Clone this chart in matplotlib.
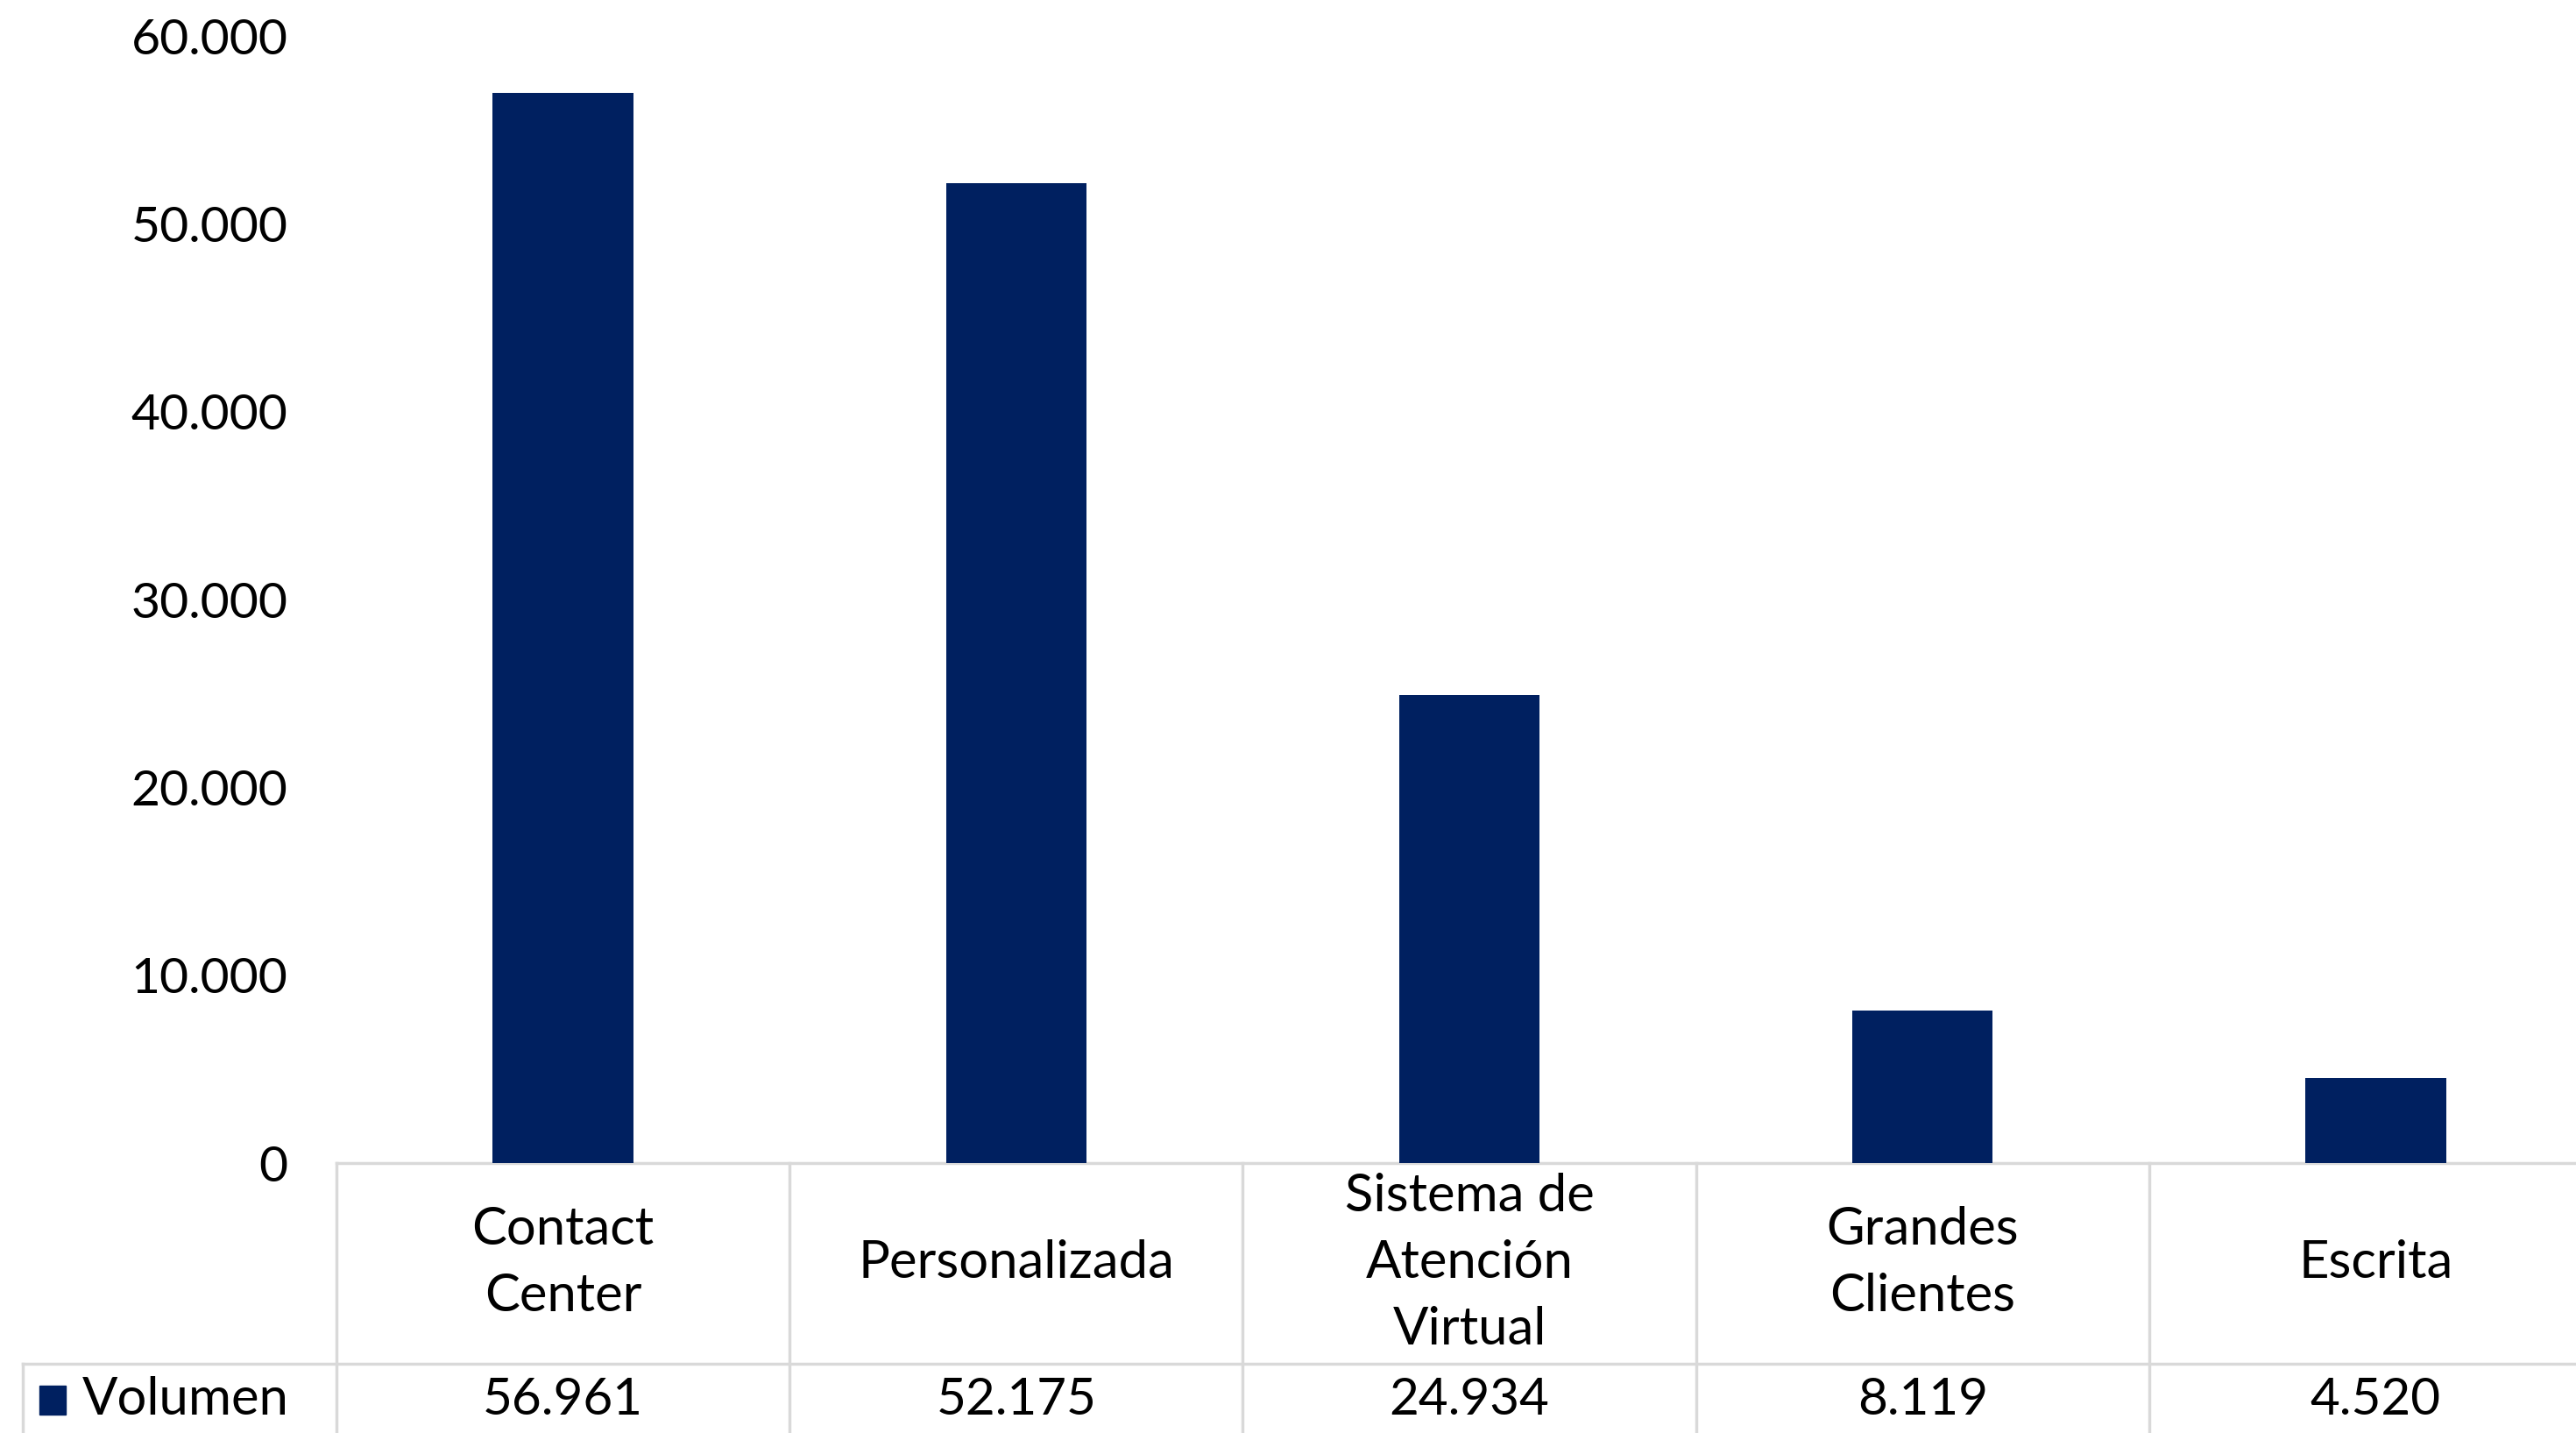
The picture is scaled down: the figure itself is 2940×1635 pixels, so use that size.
import matplotlib.pyplot as plt
import matplotlib.transforms as mtransforms
from matplotlib.patches import Rectangle
from matplotlib.ticker import FuncFormatter

# datos
categorias = ['Contact\nCenter', 'Personalizada', 'Sistema de\nAtención\nVirtual',
              'Grandes\nClientes', 'Escrita']
volumen = [56961, 52175, 24934, 8119, 4520]
serie = 'Volumen'
yticks = [0, 10000, 20000, 30000, 40000, 50000, 60000]

azul = '#002060'
gris = '#d9d9d9'
fs = 41

plt.rcParams['font.family'] = ['Lato', 'DejaVu Sans']

def miles(v):
    return f'{int(v):,}'.replace(',', '.')

W, H = 2940, 1635
fig = plt.figure(figsize=(W / 100, H / 100), dpi=100)

# el grafico se sale un poco por la derecha como en el original
x0, x1 = 384, 2970
y_axis, y_top = 1327, 41
ax = fig.add_axes([x0 / W, 1 - y_axis / H, (x1 - x0) / W, (y_axis - y_top) / H])

pos = list(range(len(categorias)))
ax.bar(pos, volumen, width=0.31, color=azul, zorder=3)
ax.set_xlim(-0.5, len(categorias) - 0.5)
ax.set_ylim(0, 60000)
ax.set_yticks(yticks)
ax.yaxis.set_major_formatter(FuncFormatter(lambda v, p: miles(v)))
ax.tick_params(axis='y', length=0, pad=40, labelsize=fs)
ax.set_xticks([])
for s in ['top', 'right', 'left']:
    ax.spines[s].set_visible(False)
ax.spines['bottom'].set_color(gris)
ax.spines['bottom'].set_linewidth(2.5)

# tabla de datos debajo del eje
tr = mtransforms.blended_transform_factory(ax.transData, fig.transFigure)
y_fila = 1 - 1556 / H
y_cat = 1 - 1441 / H
y_val = 1 - 1597 / H

for i in range(len(categorias) + 1):
    ax.plot([i - 0.5, i - 0.5], [1 - y_axis / H, 0], transform=tr, color=gris,
            lw=2.5, clip_on=False)
ax.plot([26 / W, 1.05], [y_fila, y_fila], transform=fig.transFigure, color=gris,
        lw=2.5, clip_on=False)
ax.plot([26 / W, 26 / W], [y_fila, 0], transform=fig.transFigure, color=gris,
        lw=2.5, clip_on=False)

for i, (c, v) in enumerate(zip(categorias, volumen)):
    ax.text(i, y_cat, c, transform=tr, ha='center', va='center', fontsize=fs + 2,
            linespacing=1.5)
    ax.text(i, y_val, miles(v), transform=tr, ha='center', va='center', fontsize=fs + 1)

fig.patches.append(Rectangle((45 / W, 1 - 1614 / H), 30 / W, 33 / H,
                             transform=fig.transFigure, color=azul))
fig.text(94 / W, y_val, serie, ha='left', va='center', fontsize=fs + 2)

fig.savefig('out.png', dpi=100)
